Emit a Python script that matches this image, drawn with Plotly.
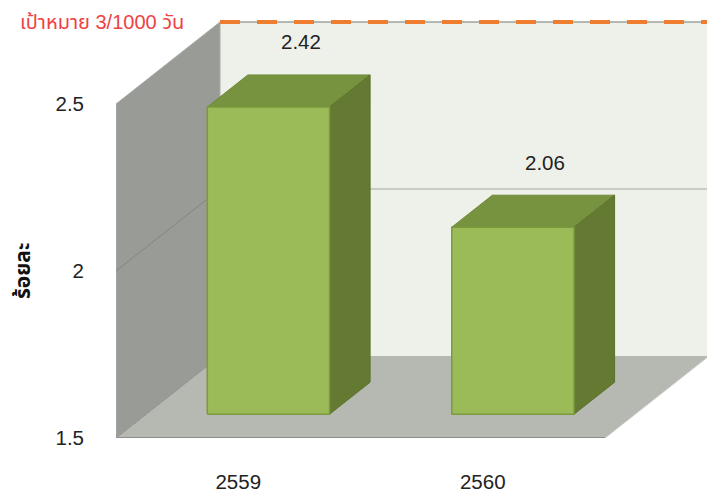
import plotly.graph_objects as go

# ---- data ----
categories = ["2559", "2560"]
values = [2.42, 2.06]
value_labels = ["2.42", "2.06"]
y_ticks = [1.5, 2, 2.5]
y_tick_labels = ["1.5", "2", "2.5"]
target_value = 2.5
target_label = "เป้าหมาย 3/1000 วัน"
y_title = "ร้อยละ"

# ---- geometry of the pseudo-3D projection (axis units) ----
YMIN, YMAX = 1.5, 2.5
NCAT = len(categories)
DX = 0.4254      # depth shift in category units
DY = 0.2455      # depth shift in value units
D_FRONT, D_BACK = 0.29, 0.68   # bar depth span
BAR_W = 0.5

def P(x, v, d):
    return x + d * DX, v + d * DY

def poly(pts, fill, line_color=None, lw=0):
    xs = [p[0] for p in pts] + [pts[0][0]]
    ys = [p[1] for p in pts] + [pts[0][1]]
    return go.Scatter(x=xs, y=ys, mode="lines", fill="toself", fillcolor=fill,
                      line=dict(color=line_color or fill, width=lw),
                      hoverinfo="skip", showlegend=False)

def seg(a, b, color, width, dash="solid"):
    return go.Scatter(x=[a[0], b[0]], y=[a[1], b[1]], mode="lines",
                      line=dict(color=color, width=width, dash=dash),
                      hoverinfo="skip", showlegend=False)

fig = go.Figure()
XR = NCAT + 1.0  # wall extends beyond visible area on the right

# back wall
fig.add_trace(poly([P(0, YMIN, 1), P(XR, YMIN, 1), P(XR, YMAX, 1), P(0, YMAX, 1)], "#eef1ea"))
# left side wall
fig.add_trace(poly([P(0, YMIN, 0), P(0, YMIN, 1), P(0, YMAX, 1), P(0, YMAX, 0)], "#999b96",
                   "#a9aba6", 1))
# floor
fig.add_trace(poly([P(0, YMIN, 0), P(NCAT, YMIN, 0), P(NCAT, YMIN, 1), P(0, YMIN, 1)], "#b6b9b2"))
# gridlines
for t in y_ticks:
    if YMIN < t < YMAX:
        fig.add_trace(seg(P(0, t, 0), P(0, t, 1), "#84867f", 1))
        fig.add_trace(seg(P(0, t, 1), P(XR, t, 1), "#a3a59f", 1.2))
# floor edges
fig.add_trace(seg(P(0, YMIN, 0), P(0, YMIN, 1), "#8f918b", 1))
fig.add_trace(seg(P(0, YMIN, 0), P(NCAT, YMIN, 0), "#8c8e89", 2))
fig.add_trace(seg(P(NCAT, YMIN, 0), P(NCAT, YMIN, 1), "#c9cbc6", 1))
# back wall top edge + target dashed line
fig.add_trace(seg(P(0, YMAX, 1), P(XR, YMAX, 1), "#a0a09c", 1.5))
fig.add_trace(seg(P(0, target_value, 1), P(XR, target_value, 1), "#ef7d2f", 4, "20px,17px"))

# bars
for i, v in enumerate(values):
    x0 = i + (1 - BAR_W) / 2
    x1 = x0 + BAR_W
    # top face
    fig.add_trace(poly([P(x0, v, D_FRONT), P(x1, v, D_FRONT), P(x1, v, D_BACK), P(x0, v, D_BACK)],
                       "#78933f", "#6f8a38", 1))
    # right side face
    fig.add_trace(poly([P(x1, YMIN, D_FRONT), P(x1, YMIN, D_BACK), P(x1, v, D_BACK), P(x1, v, D_FRONT)],
                       "#647a33", "#5d7230", 1))
    # front face
    fig.add_trace(poly([P(x0, YMIN, D_FRONT), P(x1, YMIN, D_FRONT), P(x1, v, D_FRONT), P(x0, v, D_FRONT)],
                       "#9bbb59", "#7a9a3e", 1.5))
    lx, ly = P(i + 0.5, v, D_BACK)
    fig.add_annotation(x=lx, y=ly, text=value_labels[i], showarrow=False,
                       xshift=-8, yshift=33, font=dict(size=20.5, color="#222222"))

PLOT_L, PLOT_T, PLOT_B = 116, 0, 55
W, H = 707, 493
px_per_unit_y = 334.0
px_per_unit_x = 244.5
yr_top = YMIN + (H - PLOT_T - PLOT_B) / px_per_unit_y
xr_right = (W - PLOT_L) / px_per_unit_x

FONT = "Liberation Sans, Arial, Tahoma, Noto Sans Thai, sans-serif"

tx, ty = P(0, target_value, 1)
fig.add_annotation(xref="paper", yref="y", x=-0.166, y=ty,
                   xanchor="left", yanchor="middle", text=target_label, showarrow=False,
                   font=dict(size=20, color="#f04242", family=FONT))
fig.add_annotation(xref="paper", yref="y", x=-0.159, y=2.0, xanchor="center", yanchor="middle",
                   text="<b>" + y_title + "</b>", textangle=-90, showarrow=False,
                   font=dict(size=21, color="#111111", family=FONT))

fig.update_layout(
    width=W, height=H, autosize=False,
    margin=dict(l=PLOT_L, r=0, t=PLOT_T, b=PLOT_B),
    paper_bgcolor="white", plot_bgcolor="white",
    font=dict(family=FONT, size=20.5, color="#222222"),
    xaxis=dict(range=[0, xr_right], showgrid=False, zeroline=False, showline=False,
               tickvals=[i + 0.5 for i in range(NCAT)], ticktext=categories,
               ticks="", ticklabelstandoff=29, fixedrange=True),
    yaxis=dict(range=[YMIN, yr_top], showgrid=False, zeroline=False, showline=False,
               tickvals=y_ticks, ticktext=y_tick_labels, ticks="",
               ticklabelstandoff=31, fixedrange=True),
    showlegend=False,
)

fig.write_html("out.html", config={"displayModeBar": False},
               post_script="document.body.style.margin='0px';document.body.style.overflow='hidden';")
